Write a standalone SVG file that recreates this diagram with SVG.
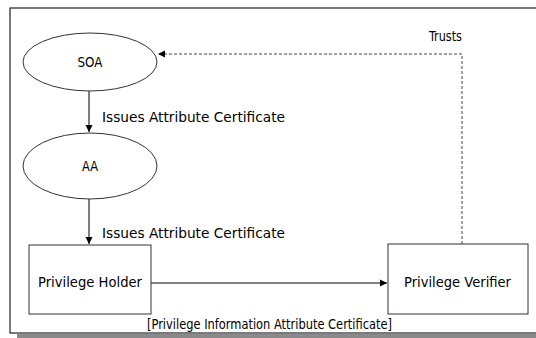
<svg xmlns="http://www.w3.org/2000/svg" width="536" height="338" viewBox="0 0 536 338">
<defs>
<marker id="ah" markerWidth="8" markerHeight="8" refX="7" refY="4" orient="auto" markerUnits="userSpaceOnUse">
<path d="M0,0.5 L7,4 L0,7.5 Z" fill="#000"/>
</marker>
<style>
text{font-family:"DejaVu Sans Condensed","Liberation Sans Narrow","Liberation Sans",sans-serif;fill:#000;font-size:14px}
.node{fill:#fff;stroke:#333;stroke-width:1}
.c{text-anchor:middle}
</style>
</defs>
<rect x="0" y="0" width="536" height="338" fill="#fff"/>
<rect x="17" y="334" width="530" height="6" fill="#8a8a8a"/>
<rect x="10" y="8" width="540" height="325" fill="#fff" stroke="#222" stroke-width="1.2"/>
<g id="connectors" fill="none" stroke="#000" stroke-width="1">
<line x1="89" y1="91" x2="89" y2="132" marker-end="url(#ah)"/>
<line x1="89" y1="199" x2="89" y2="244" marker-end="url(#ah)"/>
<line x1="151" y1="283" x2="387" y2="283" marker-end="url(#ah)"/>
<polyline points="462,244 462,54 158,54" stroke="#444" stroke-dasharray="3,2" marker-end="url(#ah)"/>
<text x="102" y="122" stroke="none" textLength="183" lengthAdjust="spacingAndGlyphs">Issues Attribute Certificate</text>
<text x="102" y="238" stroke="none" textLength="183" lengthAdjust="spacingAndGlyphs">Issues Attribute Certificate</text>
<text x="429" y="41" stroke="none" font-size="13" textLength="33" lengthAdjust="spacingAndGlyphs">Trusts</text>
<text x="147" y="329" stroke="none" font-size="12.5" textLength="245" lengthAdjust="spacingAndGlyphs">[Privilege Information Attribute Certificate]</text>
</g>
<g id="soa">
<ellipse class="node" cx="90" cy="62" rx="67" ry="29"/>
<text class="c" x="90" y="67" textLength="25" lengthAdjust="spacingAndGlyphs">SOA</text>
</g>
<g id="aa">
<ellipse class="node" cx="90" cy="166" rx="67" ry="33"/>
<text class="c" x="90" y="171" textLength="16" lengthAdjust="spacingAndGlyphs">AA</text>
</g>
<g id="holder">
<rect class="node" x="29" y="245" width="122" height="69"/>
<text x="38" y="287" textLength="104" lengthAdjust="spacingAndGlyphs">Privilege Holder</text>
</g>
<g id="verifier">
<rect class="node" x="388" y="244" width="140" height="70"/>
<text x="404" y="287" textLength="107" lengthAdjust="spacingAndGlyphs">Privilege Verifier</text>
</g>
</svg>
